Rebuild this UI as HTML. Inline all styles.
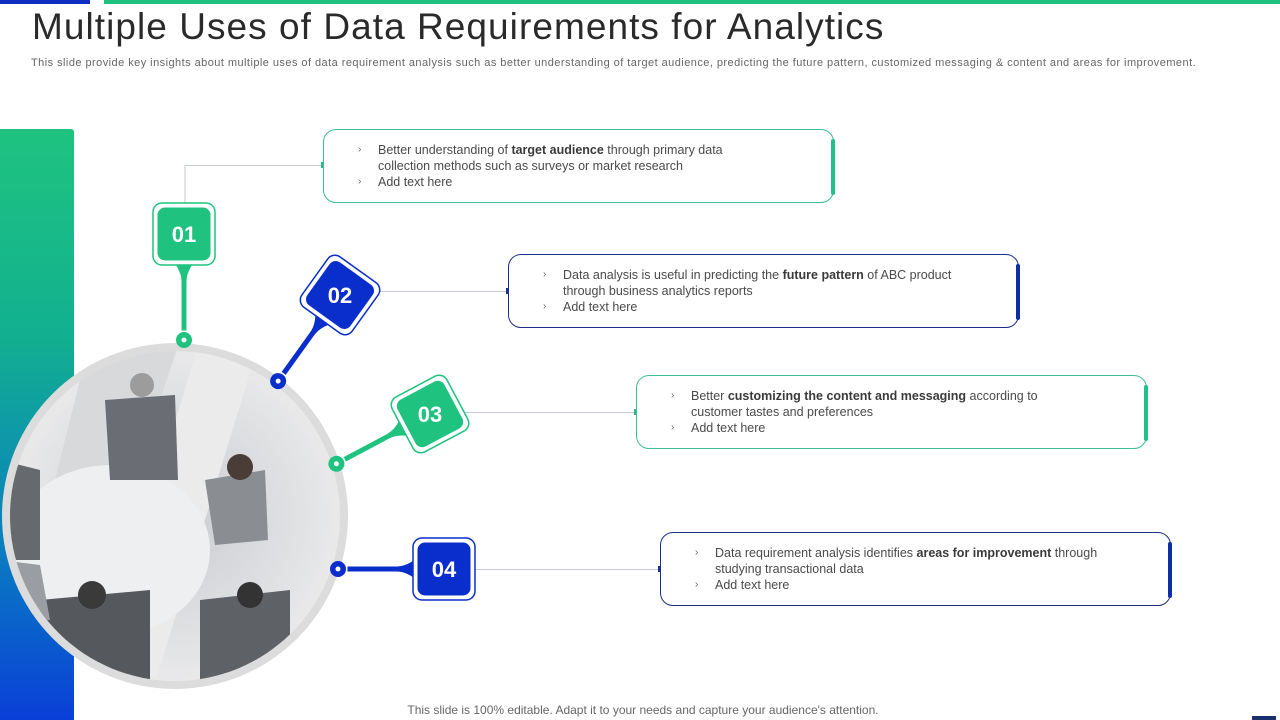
<!DOCTYPE html>
<html><head><meta charset="utf-8"><style>
*{margin:0;padding:0;box-sizing:border-box}
body{width:1280px;height:720px;background:#fff;position:relative;overflow:hidden;font-family:"Liberation Sans",sans-serif}
.t{position:absolute;left:32px;top:6px;font-size:37px;color:#2a2a2a;letter-spacing:1.05px}
.s{position:absolute;left:31px;top:57px;font-size:11px;color:#666;letter-spacing:0.45px;white-space:nowrap}
.box{position:absolute;width:511px;height:74px;border-radius:13px;border:1.3px solid;background:#fff}
.box.g{border-color:#3cbf94}.box.b{border-color:#1b2f86}
.bar{position:absolute;right:-2px;top:9px;width:4px;height:56px;border-radius:2px}
.g .bar{background:#1fc08a}.b .bar{background:#0d2ea6}
.txt{position:absolute;left:34px;top:12px;font-size:12.5px;line-height:16px;color:#4a4a4a}
.txt div{position:relative;padding-left:20px}
.txt div span.c{position:absolute;left:0;top:0;font-size:10px;color:#666}
.txt b{color:#3a3a3a}
.f{position:absolute;left:0;width:1286px;top:703px;text-align:center;font-size:12px;color:#666}
</style></head><body>
<div style="position:absolute;left:0;top:0;width:90px;height:4px;background:#0f2fc0"></div>
<div style="position:absolute;left:104px;top:0;width:1176px;height:4px;background:#1fc37f"></div>
<div class="t">Multiple Uses of Data Requirements for Analytics</div>
<div class="s">This slide provide key insights about multiple uses of data requirement analysis such as better understanding of target audience, predicting the future pattern, customized messaging &amp; content and areas for improvement.</div>
<div style="position:absolute;left:0;top:129px;width:74px;height:591px;border-radius:0 3px 0 0;background:linear-gradient(#1fc37f 0%,#12b090 35%,#0a7fc0 70%,#0a3fd8 100%)"></div>

<svg width="1280" height="720" style="position:absolute;left:0;top:0">
<defs>
<radialGradient id="ph" cx="50%" cy="50%" r="50%"><stop offset="0" stop-color="#c9ccd0"/><stop offset="0.8" stop-color="#e2e3e5"/><stop offset="1" stop-color="#e9e9ea"/></radialGradient>
<clipPath id="cc"><circle cx="175" cy="516" r="165"/></clipPath>
<g id="mk">
<path d="M-11,26 C-5,34 -2,40 -2,48 L-2,96 L2,96 L2,48 C2,40 5,34 11,26 Z"/>
<circle cx="0" cy="106" r="7.5"/>
<circle cx="0" cy="106" r="3" fill="#fff"/>
<rect x="-31" y="-31" width="62" height="62" rx="9" fill="#fff" stroke-width="1.5"/>
<rect x="-26" y="-26" width="52" height="52" rx="7"/>
</g>
</defs>
<circle cx="175" cy="516" r="173" fill="#dcdcdc"/>
<circle cx="175" cy="516" r="165" fill="url(#ph)"/>
<g clip-path="url(#cc)">
<polygon points="90,340 180,340 60,700 0,700" fill="#d8d9db"/>
<polygon points="200,340 260,340 150,700 90,700" fill="#ebebec"/>
<ellipse cx="110" cy="550" rx="100" ry="85" fill="#eeeff0"/>
<path d="M105,400 L175,395 L178,480 L110,480 Z" fill="#6a6e74"/>
<circle cx="142" cy="385" r="12" fill="#9c9c9c"/>
<path d="M205,480 L265,470 L268,540 L215,545 Z" fill="#8a8d92"/>
<circle cx="240" cy="467" r="13" fill="#4a3d38"/>
<path d="M40,600 L150,590 L150,680 L40,680 Z" fill="#55585d"/>
<circle cx="92" cy="595" r="14" fill="#3a3a3a"/>
<path d="M200,600 L290,590 L290,680 L200,680 Z" fill="#5e6166"/>
<circle cx="250" cy="595" r="13" fill="#333"/>
<path d="M0,460 L40,470 L40,560 L0,560 Z" fill="#66696d"/>
<path d="M0,560 L40,565 L50,620 L0,620 Z" fill="#9a9da1"/>
</g>
<g fill="none" stroke="#c6cbd2" stroke-width="1">
<path d="M185,203 V165.5 H323"/>
<path d="M372,291.5 H508"/>
<path d="M462,412.5 H636"/>
<path d="M476,569.5 H660"/>
</g>
<rect x="321" y="162" width="5" height="6" fill="#2bb88a"/>
<rect x="506" y="288" width="5" height="6" fill="#1b2f9a"/>
<rect x="634" y="409" width="5" height="6" fill="#2bb88a"/>
<rect x="658" y="566" width="5" height="6" fill="#1b2f9a"/>
<g fill="#1fc37f"><use href="#mk" transform="translate(184,234)" stroke="#1fc37f"/></g>
<g fill="#0a2ecc"><use href="#mk" transform="translate(340,295) rotate(35.7)" stroke="#0a2ecc"/></g>
<g fill="#1fc37f"><use href="#mk" transform="translate(430,414) rotate(62)" stroke="#1fc37f"/></g>
<g fill="#0a2ecc"><use href="#mk" transform="translate(444,569) rotate(90)" stroke="#0a2ecc"/></g>
<g font-family="Liberation Sans" font-weight="bold" font-size="22" fill="#fff" text-anchor="middle">
<text x="184" y="242">01</text><text x="340" y="303">02</text><text x="430" y="422">03</text><text x="444" y="577">04</text>
</g>
</svg>

<div class="box g" style="left:323px;top:129px"><div class="bar"></div><div class="txt">
<div><span class="c">›</span>Better understanding of <b>target audience</b> through primary data<br>collection methods such as surveys or market research</div>
<div><span class="c">›</span>Add text here</div></div></div>
<div class="box b" style="left:508px;top:254px"><div class="bar"></div><div class="txt">
<div><span class="c">›</span>Data analysis is useful in predicting the <b>future pattern</b> of ABC product<br>through business analytics reports</div>
<div><span class="c">›</span>Add text here</div></div></div>
<div class="box g" style="left:636px;top:375px"><div class="bar"></div><div class="txt">
<div><span class="c">›</span>Better <b>customizing the content and messaging</b> according to<br>customer tastes and preferences</div>
<div><span class="c">›</span>Add text here</div></div></div>
<div class="box b" style="left:660px;top:532px"><div class="bar"></div><div class="txt">
<div><span class="c">›</span>Data requirement analysis identifies <b>areas for improvement</b> through<br>studying transactional data</div>
<div><span class="c">›</span>Add text here</div></div></div>

<div class="f">This slide is 100% editable. Adapt it to your needs and capture your audience's attention.</div>
<div style="position:absolute;left:1252px;top:716px;width:24px;height:4px;background:#1b2f6a"></div>
</body></html>
